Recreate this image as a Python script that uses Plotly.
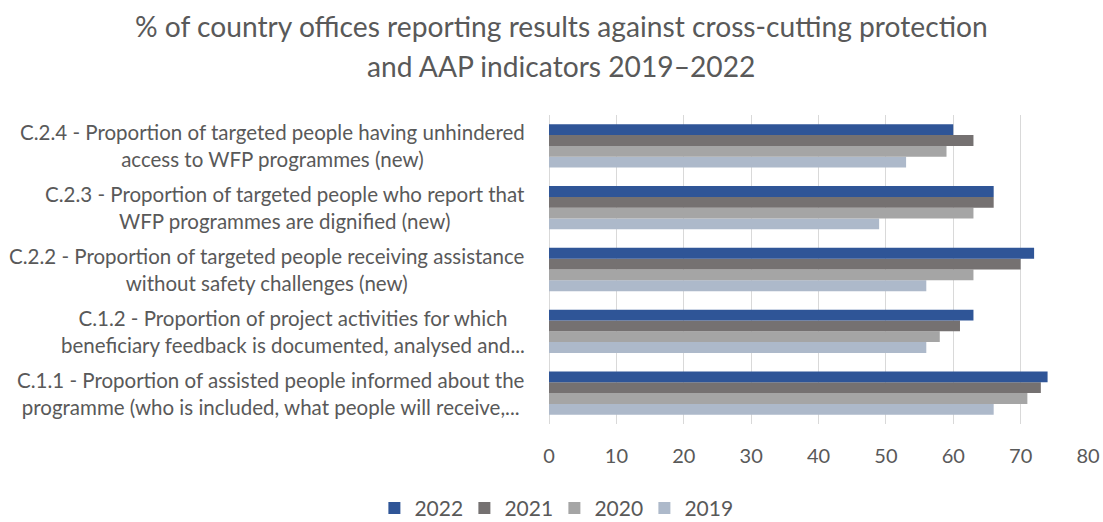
import plotly.graph_objects as go

# Indicator labels (bottom to top on the category axis)
categories = [
    "C.1.1 - Proportion of assisted people informed about the<br>programme (who is included, what people will receive,...",
    "C.1.2 - Proportion of project activities for which<br>beneficiary feedback is documented, analysed and...",
    "C.2.2 - Proportion of targeted people receiving assistance<br>without safety challenges (new)",
    "C.2.3 - Proportion of targeted people who report that<br>WFP programmes are dignified (new)",
    "C.2.4 - Proportion of targeted people having unhindered<br>access to WFP programmes (new)",
]
cat_keys = ["C.1.1", "C.1.2", "C.2.2", "C.2.3", "C.2.4"]

# Percentage of country offices reporting, per year
values_2019 = [66, 56, 56, 49, 53]
values_2020 = [71, 58, 63, 63, 59]
values_2021 = [73, 61, 70, 66, 63]
values_2022 = [74, 63, 72, 66, 60]

years = ["2019", "2020", "2021", "2022"]
series = [values_2019, values_2020, values_2021, values_2022]
colors = ["#ADB9CA", "#A5A5A5", "#757171", "#2F5597"]

x_ticks = [0, 10, 20, 30, 40, 50, 60, 70, 80]

title_line1 = "% of country offices reporting results against cross-cutting protection"
title_line2 = "and AAP indicators 2019\u20132022"

FONT = "Lato, 'Open Sans', sans-serif"
TEXT_COLOR = "#595959"

fig = go.Figure()
for year, vals, col in zip(years, series, colors):
    fig.add_trace(go.Bar(
        y=cat_keys, x=vals, name=year, orientation="h",
        marker=dict(color=col, line=dict(width=0)),
    ))

# Category labels, centred line-by-line and right-aligned against the plot
for key, label in zip(cat_keys, categories):
    fig.add_annotation(
        x=0, xref="paper", y=key, yref="y",
        text=label, showarrow=False,
        xanchor="right", yanchor="middle", align="center",
        xshift=-22,
        font=dict(family=FONT, size=20.5, color=TEXT_COLOR),
    )

# Two-line chart title
for text, ypos in [(title_line1, 1.287), (title_line2, 1.158)]:
    fig.add_annotation(x=0.023, xref="paper", y=ypos, yref="paper", text=text,
                       showarrow=False, xanchor="center", yanchor="middle",
                       font=dict(family=FONT, size=28.2, color=TEXT_COLOR))

fig.update_layout(
    width=1103, height=522,
    margin=dict(l=549, r=15, t=115, b=98),
    paper_bgcolor="white", plot_bgcolor="white",
    barmode="group", bargap=0.3, bargroupgap=0,
    font=dict(family=FONT, color=TEXT_COLOR),
    legend=dict(
        orientation="h", traceorder="reversed",
        x=0.010, xanchor="center",
        yref="container", y=0.026, yanchor="middle",
        font=dict(family=FONT, size=21, color=TEXT_COLOR),
        itemwidth=30, entrywidth=45, entrywidthmode="pixels",
    ),
    showlegend=True,
)
fig.update_xaxes(
    range=[0, 80], tickvals=x_ticks, ticktext=[str(t) for t in x_ticks],
    showgrid=True, gridcolor="#D9D9D9", gridwidth=1,
    zeroline=True, zerolinecolor="#D9D9D9", zerolinewidth=1,
    showline=False, ticks="",
    tickfont=dict(family=FONT, size=20, color=TEXT_COLOR),
    ticklabelstandoff=18, automargin=False,
)
fig.update_yaxes(
    categoryorder="array", categoryarray=cat_keys,
    showticklabels=False, showgrid=False, ticks="", showline=False,
)

fig.write_html("out.html")
